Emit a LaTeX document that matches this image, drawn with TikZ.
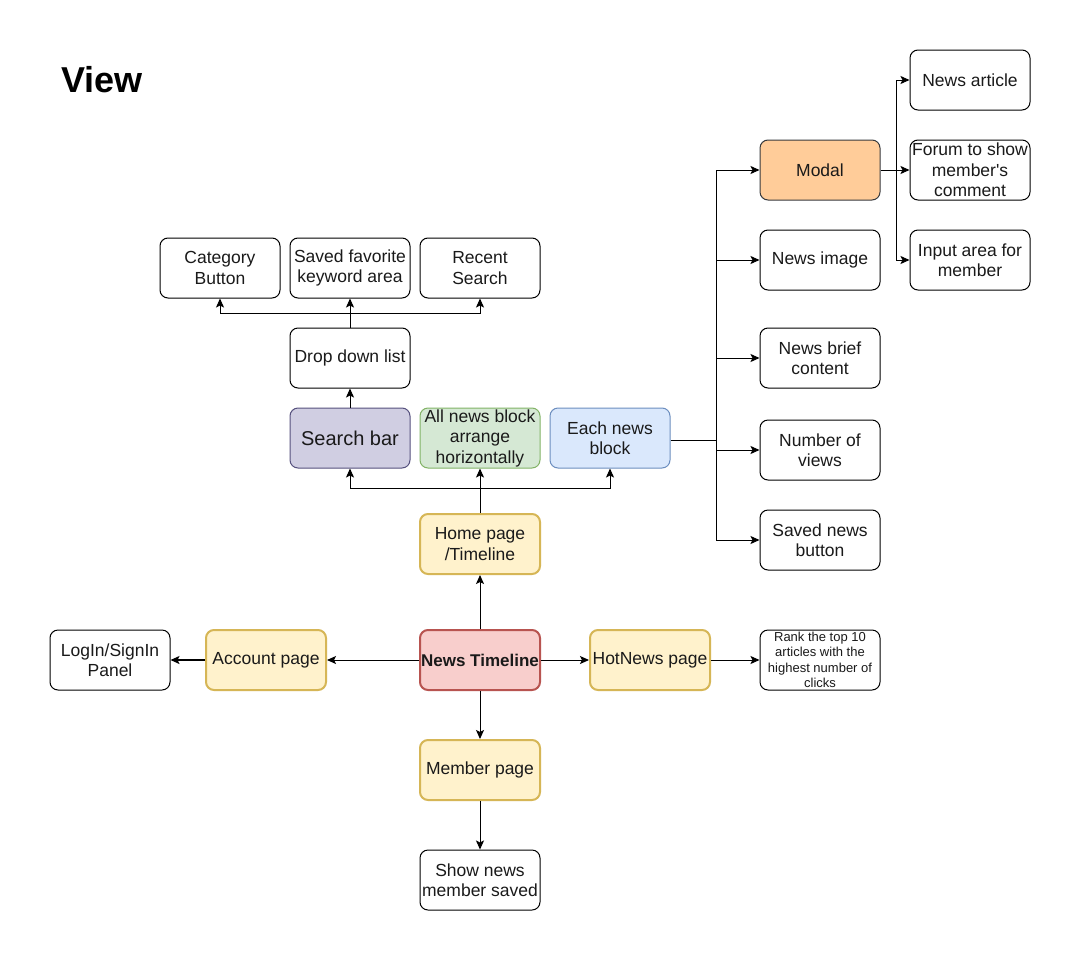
\documentclass[tikz,border=0pt]{standalone}
\usepackage{fontspec}
\setmainfont{Liberation Sans}
\usetikzlibrary{arrows.meta}
\definecolor{txt}{HTML}{1A1A1A}
\definecolor{purpleF}{HTML}{D0CEE2}\definecolor{purpleS}{HTML}{56517E}
\definecolor{greenF}{HTML}{D5E8D4}\definecolor{greenS}{HTML}{82B366}
\definecolor{blueF}{HTML}{DAE8FC}\definecolor{blueS}{HTML}{6C8EBF}
\definecolor{yelF}{HTML}{FFF2CC}\definecolor{yelS}{HTML}{D6B656}
\definecolor{redF}{HTML}{F8CECC}\definecolor{redS}{HTML}{B85450}
\definecolor{orF}{HTML}{FFCC99}\definecolor{orS}{HTML}{36393D}
\tikzset{
  box/.style={draw=black, fill=white, rounded corners=8pt, minimum width=120pt, minimum height=60pt,
    align=center, text=txt, font=\fontsize{17.5}{20.5}\selectfont, inner sep=1pt, line width=1pt},
  yelbox/.style={box, fill=yelF, draw=yelS, line width=2pt},
  arr/.style={draw=black, line width=1pt, -{Stealth[length=9pt,width=8pt,inset=2pt]}},
  ln/.style={draw=black, line width=1pt},
}
\begin{document}
\begin{tikzpicture}[x=1pt,y=-1pt]
\useasboundingbox[fill=white] (0,0) rectangle (1081,961);
\node[anchor=west, font=\fontsize{36}{40}\selectfont\bfseries, text=black] (title) at (58,80) {View};

% top row
\node[box] (cat) at (220,268) {Category\\Button};
\node[box] (fav) at (350,268) {Saved favorite\\keyword area};
\node[box] (recent) at (480,268) {Recent\\Search};
\node[box] (drop) at (350,358) {Drop down list};

\node[box, fill=purpleF, draw=purpleS, font=\fontsize{20}{23}\selectfont] (search) at (350,438) {Search bar};
\node[box, fill=greenF, draw=greenS] (allnews) at (480,438) {All news block\\arrange\\horizontally};
\node[box, fill=blueF, draw=blueS] (each) at (610,438) {Each news\\block};

\node[yelbox] (home) at (480,544) {Home page\\/Timeline};
\node[box, fill=redF, draw=redS, line width=2pt, font=\fontsize{17}{20}\selectfont\bfseries] (nt) at (480,660) {News Timeline};
\node[yelbox] (account) at (266,660) {Account page};
\node[box] (login) at (110,660) {LogIn/SignIn\\Panel};
\node[yelbox] (hot) at (650,660) {HotNews page};
\node[box, font=\fontsize{13}{15.5}\selectfont] (rank) at (820,660) {Rank the top 10\\articles with the\\highest number of\\clicks};
\node[yelbox] (member) at (480,770) {Member page};
\node[box] (show) at (480,880) {Show news\\member saved};

% right column
\node[box, fill=orF, draw=orS] (modal) at (820,170) {Modal};
\node[box] (image) at (820,260) {News image};
\node[box] (brief) at (820,358) {News brief\\content};
\node[box] (views) at (820,450) {Number of\\views};
\node[box] (savedbtn) at (820,540) {Saved news\\button};

\node[box] (article) at (970,80) {News article};
\node[box] (forum) at (970,170) {Forum to show\\member\textquotesingle s\\comment};
\node[box] (input) at (970,260) {Input area for\\member};

% bus coordinates
\coordinate (db) at (350,313);
\coordinate (hb) at (480,488);
\coordinate (eb) at (716,440);
\coordinate (mb) at (896,170);

% drop down to top row
\draw[arr] (search.north) -- (drop.south);
\draw[arr] (drop.north) -- (db) -| (cat.south);
\draw[arr] (db) -- (fav.south);
\draw[arr] (db) -| (recent.south);

% home page bus
\draw[arr] (home.north) -- (hb) -| (search.south);
\draw[arr] (hb) -- (allnews.south);
\draw[arr] (hb) -| (each.south);

% each news block bus
\draw[ln] (each.east |- eb) -- (eb);
\draw[arr] (eb) |- (modal.west);
\draw[arr] (eb) |- (image.west);
\draw[arr] (eb) |- (brief.west);
\draw[arr] (eb) |- (views.west);
\draw[arr] (eb) |- (savedbtn.west);

% modal bus
\draw[arr] (modal.east) -- (forum.west);
\draw[arr] (mb) |- (article.west);
\draw[arr] (mb) |- (input.west);

% central
\draw[arr] (nt.north) -- (home.south);
\draw[arr] (nt.west) -- (account.east);
\draw[arr, line width=1.6pt] (account.west) -- (login.east);
\draw[arr] (nt.east) -- (hot.west);
\draw[arr] (hot.east) -- (rank.west);
\draw[arr] (nt.south) -- (member.north);
\draw[arr] (member.south) -- (show.north);
\end{tikzpicture}
\end{document}
